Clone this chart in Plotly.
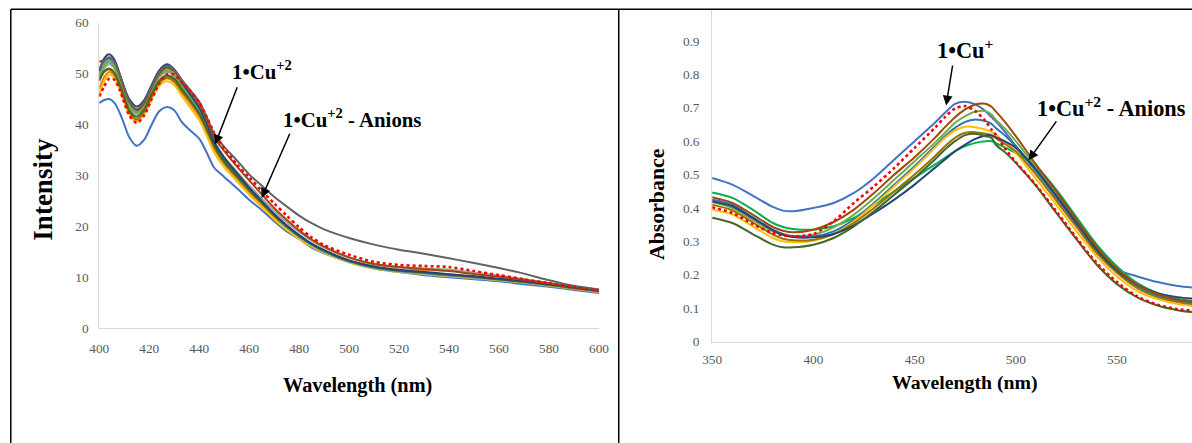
import plotly.graph_objects as go

# The rendered page shows the figure offset by the 8px body margin and scaled
# by 1192/1210 x 443/459; positions below are given in reference pixels and
# mapped back into figure pixels. The figure is sized so it reaches the
# right and bottom edges of the picture.
OFF = 8
SX = 1210 / 1192
SY = 459 / 443
W, H = 1202, 451

# ---------------- Left panel data (fluorescence) ----------------
WL_L = [400, 402, 404, 406, 408, 410, 412, 415, 418, 421, 424, 427, 430, 433, 436, 440, 443, 446, 450,
        455, 460, 465, 470, 475, 480, 485, 490, 500, 510, 520, 530, 540, 550, 560, 570, 580, 590, 600]

L_blue = [44.2, 44.8, 45.0, 44.3, 42.5, 40.0, 37.5, 35.8, 37.0, 40.0, 42.6, 43.4, 42.8, 40.5, 39.0, 37.2, 34.5, 31.5, 29.7,
          27.5, 25.2, 23.2, 21.0, 19.0, 17.5, 15.8, 14.7, 13.0, 11.7, 11.0, 10.4, 10.0, 9.6, 9.2, 8.6, 8.1, 7.5, 6.9]
L_orange = [47.0, 49.3, 50.3, 49.6, 47.5, 44.8, 42.2, 40.8, 42.3, 45.3, 48.0, 49.0, 48.3, 46.2, 44.3, 41.5, 38.5, 35.2, 32.2,
             29.4, 26.7, 24.2, 21.8, 19.7, 17.8, 16.3, 15.1, 13.2, 12.0, 11.5, 11.4, 11.3, 10.8, 10.2, 9.5, 8.7, 8.0, 7.4]
L_gray = [49.0, 51.0, 51.8, 51.0, 48.8, 46.0, 43.5, 42.0, 43.5, 46.5, 49.2, 50.3, 49.6, 47.6, 45.8, 43.0, 40.0, 36.8, 33.6,
          30.8, 28.0, 25.5, 23.0, 20.8, 18.9, 17.2, 15.8, 13.8, 12.5, 11.9, 11.7, 11.5, 10.9, 10.3, 9.6, 8.8, 8.1, 7.5]
L_gold = [46.0, 48.5, 49.8, 49.2, 47.2, 44.5, 42.0, 40.5, 42.0, 45.0, 47.6, 48.5, 47.8, 45.6, 43.6, 40.8, 37.8, 34.5, 31.6,
          28.9, 26.2, 23.8, 21.4, 19.3, 17.5, 16.0, 14.8, 12.9, 11.7, 11.0, 10.6, 10.2, 9.8, 9.4, 8.9, 8.3, 7.7, 7.1]
L_lightblue = [50.0, 52.0, 52.6, 51.6, 49.3, 46.5, 44.0, 42.5, 44.0, 47.0, 49.8, 51.0, 50.0, 47.6, 45.4, 42.2, 39.2, 35.8, 32.6,
               29.8, 27.0, 24.5, 22.0, 19.8, 17.9, 16.3, 15.0, 13.0, 11.8, 11.1, 10.7, 10.3, 9.9, 9.5, 9.0, 8.4, 7.8, 7.2]
L_green = [49.5, 51.5, 52.2, 51.3, 49.0, 46.2, 43.7, 42.3, 43.8, 46.8, 49.5, 50.6, 49.8, 47.5, 45.5, 42.5, 39.5, 36.2, 33.0,
           30.2, 27.3, 24.8, 22.3, 20.1, 18.2, 16.5, 15.2, 13.2, 12.0, 11.3, 10.9, 10.5, 10.1, 9.6, 9.1, 8.5, 7.9, 7.3]
L_navy = [50.5, 53.0, 53.8, 52.8, 50.2, 47.3, 45.0, 43.5, 44.8, 47.8, 50.6, 51.8, 50.8, 48.3, 46.2, 43.3, 40.2, 36.5, 33.5,
          30.5, 27.6, 25.0, 22.4, 20.2, 18.3, 16.6, 15.3, 13.3, 12.1, 11.4, 11.0, 10.6, 10.2, 9.7, 9.2, 8.6, 8.0, 7.4]
L_brown = [52.3, 52.6, 53.0, 52.3, 50.0, 47.0, 44.5, 42.8, 44.2, 47.3, 50.0, 51.2, 50.5, 48.5, 46.8, 44.0, 41.0, 37.5, 34.8,
           31.8, 29.0, 26.3, 23.6, 21.3, 19.2, 17.4, 16.0, 13.9, 12.6, 12.0, 11.6, 11.2, 10.6, 10.1, 9.5, 8.8, 8.1, 7.5]
L_olive = [48.5, 50.3, 50.8, 50.0, 47.8, 45.0, 42.5, 41.0, 42.5, 45.5, 48.2, 49.2, 48.6, 46.5, 44.8, 42.0, 39.0, 35.6, 32.5,
           29.7, 27.0, 24.6, 22.1, 20.0, 18.1, 16.5, 15.2, 13.2, 12.0, 11.3, 10.9, 10.5, 10.1, 9.6, 9.1, 8.5, 7.9, 7.3]
L_darkgreen = [48.8, 50.5, 51.0, 50.2, 48.0, 45.3, 42.8, 41.5, 43.0, 46.0, 48.6, 49.6, 49.0, 47.0, 45.0, 42.2, 39.2, 35.9, 32.8,
               30.0, 27.2, 24.7, 22.2, 20.0, 18.1, 16.5, 15.2, 13.2, 12.0, 11.3, 10.9, 10.5, 10.1, 9.6, 9.1, 8.5, 7.9, 7.3]
L_darkgray = [51.0, 52.5, 53.2, 52.3, 50.0, 47.0, 44.6, 43.0, 44.5, 47.5, 50.3, 51.5, 50.8, 48.8, 47.0, 44.5, 41.5, 38.2, 35.6,
              33.0, 30.2, 28.0, 25.8, 23.9, 22.1, 20.6, 19.4, 17.7, 16.4, 15.4, 14.6, 13.7, 12.8, 11.8, 10.7, 9.4, 8.3, 7.6]
L_red = [45.5, 47.5, 49.0, 48.8, 47.0, 44.3, 41.8, 40.3, 41.8, 45.0, 48.0, 49.8, 49.8, 48.3, 46.8, 44.3, 41.5, 38.3, 35.3,
         32.2, 29.6, 27.0, 24.5, 22.1, 19.8, 17.8, 16.3, 14.4, 13.0, 12.4, 12.2, 12.0, 11.2, 10.4, 9.6, 8.8, 8.0, 7.4]

# ---------------- Right panel data (absorbance) ----------------
WL_R = [350, 360, 370, 380, 385, 390, 400, 410, 420, 430, 440, 450, 460, 465, 470, 475, 480, 485, 488, 490,
        495, 500, 510, 520, 530, 540, 550, 560, 570, 580, 590]

R_blue = [0.490, 0.470, 0.437, 0.403, 0.392, 0.390, 0.400, 0.415, 0.445, 0.490, 0.545, 0.600, 0.655, 0.685, 0.712, 0.718, 0.710, 0.690, 0.672, 0.660,
          0.625, 0.585, 0.510, 0.430, 0.348, 0.268, 0.215, 0.195, 0.178, 0.166, 0.160]
R_brightgreen = [0.446, 0.430, 0.395, 0.355, 0.343, 0.337, 0.335, 0.345, 0.370, 0.410, 0.450, 0.490, 0.530, 0.550, 0.570, 0.585, 0.595, 0.600, 0.600, 0.595,
                 0.580, 0.565, 0.525, 0.455, 0.372, 0.290, 0.225, 0.175, 0.145, 0.128, 0.120]
R_brown = [0.432, 0.415, 0.380, 0.343, 0.332, 0.327, 0.335, 0.358, 0.395, 0.445, 0.500, 0.552, 0.610, 0.642, 0.672, 0.695, 0.710, 0.712, 0.703, 0.690,
           0.655, 0.615, 0.530, 0.450, 0.365, 0.283, 0.218, 0.170, 0.142, 0.125, 0.117]
R_green = [0.418, 0.400, 0.365, 0.330, 0.320, 0.316, 0.320, 0.342, 0.380, 0.430, 0.485, 0.540, 0.595, 0.625, 0.655, 0.675, 0.688, 0.690, 0.680, 0.665,
           0.635, 0.600, 0.522, 0.443, 0.360, 0.278, 0.213, 0.165, 0.138, 0.122, 0.113]
R_steel = [0.425, 0.410, 0.372, 0.335, 0.322, 0.315, 0.315, 0.330, 0.365, 0.415, 0.470, 0.525, 0.585, 0.615, 0.640, 0.658, 0.665, 0.660, 0.652, 0.640,
           0.615, 0.585, 0.512, 0.435, 0.352, 0.270, 0.208, 0.162, 0.137, 0.123, 0.116]
R_navy = [0.420, 0.405, 0.370, 0.333, 0.320, 0.313, 0.312, 0.322, 0.348, 0.385, 0.425, 0.470, 0.520, 0.545, 0.570, 0.590, 0.607, 0.617, 0.617, 0.612,
          0.598, 0.580, 0.515, 0.437, 0.355, 0.275, 0.213, 0.170, 0.145, 0.133, 0.127]
R_gold = [0.395, 0.380, 0.345, 0.310, 0.300, 0.297, 0.302, 0.322, 0.360, 0.410, 0.465, 0.520, 0.580, 0.610, 0.632, 0.643, 0.642, 0.635, 0.628, 0.620,
          0.595, 0.565, 0.487, 0.410, 0.330, 0.255, 0.195, 0.152, 0.127, 0.112, 0.105]
R_olive = [0.410, 0.393, 0.357, 0.320, 0.308, 0.303, 0.305, 0.322, 0.355, 0.400, 0.450, 0.500, 0.555, 0.585, 0.610, 0.625, 0.627, 0.622, 0.618, 0.610,
           0.590, 0.570, 0.500, 0.422, 0.343, 0.265, 0.205, 0.160, 0.133, 0.118, 0.110]
R_darkgreen = [0.371, 0.355, 0.322, 0.290, 0.282, 0.282, 0.290, 0.310, 0.345, 0.390, 0.440, 0.490, 0.545, 0.575, 0.600, 0.618, 0.622, 0.615, 0.610, 0.590,
               0.565, 0.535, 0.466, 0.385, 0.306, 0.230, 0.172, 0.132, 0.108, 0.094, 0.086]
R_red = [0.402, 0.385, 0.352, 0.325, 0.318, 0.315, 0.322, 0.360, 0.415, 0.465, 0.520, 0.580, 0.640, 0.672, 0.698, 0.705, 0.690, 0.660, 0.635, 0.620,
         0.575, 0.537, 0.468, 0.390, 0.310, 0.235, 0.178, 0.135, 0.110, 0.097, 0.092]

L_TICKS_X = [400, 420, 440, 460, 480, 500, 520, 540, 560, 580, 600]
L_TICKS_Y = [0, 10, 20, 30, 40, 50, 60]
R_TICKS_X = [350, 400, 450, 500, 550]
R_TICKS_Y = [0, 0.1, 0.2, 0.3, 0.4, 0.5, 0.6, 0.7, 0.8, 0.9]
R_TICKTEXT_Y = ["0", "0.1", "0.2", "0.3", "0.4", "0.5", "0.6", "0.7", "0.8", "0.9"]

fig = go.Figure()

left_series = [
    (L_blue, "#4472C4", "solid"), (L_orange, "#ED7D31", "solid"), (L_gray, "#A5A5A5", "solid"),
    (L_gold, "#FFC000", "solid"), (L_lightblue, "#5B9BD5", "solid"), (L_green, "#70AD47", "solid"),
    (L_olive, "#997300", "solid"), (L_darkgreen, "#43682B", "solid"), (L_navy, "#264478", "solid"),
    (L_brown, "#9E480E", "solid"), (L_darkgray, "#636363", "solid"), (L_red, "#FF0000", "dot"),
]
for ys, col, dash in left_series:
    fig.add_trace(go.Scatter(x=WL_L, y=ys, mode="lines", xaxis="x", yaxis="y",
                             line=dict(color=col, width=2.6 if dash == "dot" else 2, dash=dash, shape="spline", smoothing=0.8),
                             showlegend=False, hoverinfo="skip"))

right_series = [
    (R_blue, "#4472C4", "solid"), (R_brightgreen, "#00B050", "solid"), (R_green, "#70AD47", "solid"),
    (R_steel, "#2E75B6", "solid"), (R_gold, "#FFC000", "solid"), (R_olive, "#997300", "solid"),
    (R_navy, "#264478", "solid"), (R_brown, "#9E480E", "solid"), (R_darkgreen, "#43682B", "solid"),
    (R_red, "#FF0000", "dot"),
]
for ys, col, dash in right_series:
    fig.add_trace(go.Scatter(x=WL_R, y=ys, mode="lines", xaxis="x2", yaxis="y2",
                             line=dict(color=col, width=2.6 if dash == "dot" else 2, dash=dash, shape="spline", smoothing=0.8),
                             showlegend=False, hoverinfo="skip"))


def fx(r):
    """reference x pixel -> figure x pixel"""
    return r * SX - OFF


def fy(r):
    """reference y pixel -> figure y pixel"""
    return r * SY - OFF


def px(r):
    return fx(r) / W


def py(r):
    return 1 - fy(r) / H


tickfont = dict(family="Liberation Serif", size=13.3, color="#595959")
axis_common = dict(showline=True, linecolor="#D9D9D9", linewidth=1, showgrid=False, zeroline=False,
                   ticks="", tickfont=tickfont, fixedrange=True)

# right x axis: 350 at 711.3 ref px, 2.028 ref px per nm; visible up to the figure edge
right_edge_ref = (W + OFF) / SX
r_xmax = 350 + (right_edge_ref - 711.3) / 2.028

fig.update_layout(
    width=W, height=H, margin=dict(l=0, r=0, t=0, b=0),
    paper_bgcolor="white", plot_bgcolor="white",
    xaxis=dict(domain=[px(97.3), px(597.9)], range=[400, 600], tickvals=L_TICKS_X, anchor="y",
               ticklabelstandoff=8, **axis_common),
    yaxis=dict(domain=[py(328.3), py(23.3)], range=[0, 60], tickvals=L_TICKS_Y, anchor="x",
               ticklabelstandoff=7, **axis_common),
    xaxis2=dict(domain=[px(711.3), 1.0], range=[350, r_xmax], tickvals=R_TICKS_X, anchor="y2",
                ticklabelstandoff=6, **axis_common),
    yaxis2=dict(domain=[py(341.7), py(10)], range=[0, 0.995], tickvals=R_TICKS_Y,
                ticktext=R_TICKTEXT_Y, anchor="x2", ticklabelstandoff=9, **axis_common),
)

serif_b = "Liberation Serif"
annos = []
# axis titles
annos.append(dict(text="<b>Intensity</b>", x=px(41.5), y=py(189.5), textangle=-90,
                  font=dict(family=serif_b, size=27, color="black")))
annos.append(dict(text="<b>Wavelength (nm)</b>", x=px(356), y=py(386),
                  font=dict(family=serif_b, size=20.3, color="black")))
annos.append(dict(text="<b>Absorbance</b>", x=px(655.5), y=py(204), textangle=-90,
                  font=dict(family=serif_b, size=21.8, color="black")))
annos.append(dict(text="<b>Wavelength (nm)</b>", x=px(964.5), y=py(383),
                  font=dict(family=serif_b, size=19.8, color="black")))
# labels
annos.append(dict(text="<b>1•Cu<sup>+2</sup></b>", x=px(228), y=py(71), xanchor="left",
                  font=dict(family=serif_b, size=20.8, color="black")))
annos.append(dict(text="<b>1•Cu<sup>+2</sup> - Anions</b>", x=px(279), y=py(119), xanchor="left",
                  font=dict(family=serif_b, size=20.8, color="black")))
annos.append(dict(text="<b>1•Cu<sup>+</sup></b>", x=px(935), y=py(50), xanchor="left",
                  font=dict(family=serif_b, size=22.3, color="black")))
annos.append(dict(text="<b>1•Cu<sup>+2</sup> - Anions</b>", x=px(1035), y=py(108), xanchor="left",
                  font=dict(family=serif_b, size=22.3, color="black")))
for a in annos:
    a.update(xref="paper", yref="paper", showarrow=False)
    a.setdefault("xanchor", "center")
    a.setdefault("yanchor", "middle")

# arrows: (tail x, tail y, head x, head y) in reference pixels
arrows = [(235.7, 88.3, 213.3, 145.0), (288.3, 135.0, 260.0, 198.3),
          (952.3, 66.0, 945.7, 106.0), (1056.7, 121.7, 1028.3, 160.7)]
for tx, ty, hx, hy in arrows:
    annos.append(dict(x=px(hx), y=py(hy), xref="paper", yref="paper",
                      ax=(tx - hx) * SX, ay=(ty - hy) * SY,
                      axref="pixel", ayref="pixel", showarrow=True, arrowhead=2, arrowsize=1.3,
                      arrowwidth=1.5, arrowcolor="black", text=""))
fig.update_layout(annotations=annos)

# frame lines
left_x = max(px(7.3), 0.8 / W)
shapes = [
    dict(type="line", xref="paper", yref="paper", x0=left_x, x1=1, y0=py(10), y1=py(10)),
    dict(type="line", xref="paper", yref="paper", x0=left_x, x1=left_x, y0=0, y1=py(10)),
    dict(type="line", xref="paper", yref="paper", x0=px(617.7), x1=px(617.7), y0=0, y1=py(10)),
]
for s in shapes:
    s.update(line=dict(color="black", width=1.5), layer="above")
fig.update_layout(shapes=shapes)

fig.write_html("out.html")
